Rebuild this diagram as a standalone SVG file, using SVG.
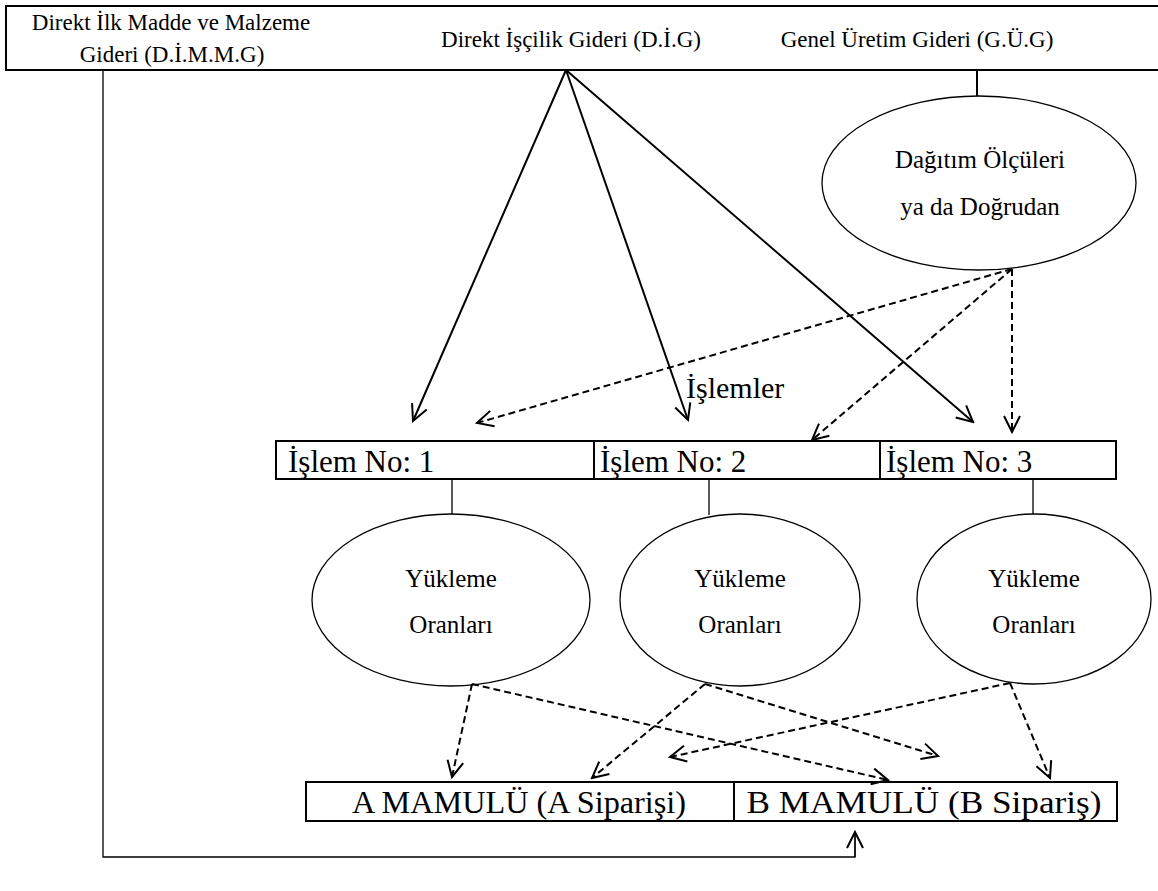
<svg xmlns="http://www.w3.org/2000/svg" width="1158" height="891" viewBox="0 0 1158 891">
<defs>
<style>
.t{font-family:"Liberation Serif","Times New Roman","DejaVu Serif",serif;fill:#000}
.box{fill:none;stroke:#000;stroke-width:2}
.ln{stroke:#000;stroke-width:2;fill:none}
.dash{stroke:#000;stroke-width:2;fill:none;stroke-dasharray:7,4}
.thin{stroke:#000;stroke-width:1.3;fill:none}
</style>
<marker id="ah" viewBox="0 0 20 20" refX="18" refY="10" markerWidth="20" markerHeight="20" markerUnits="userSpaceOnUse" orient="auto">
<path d="M2,2 L18,10 L2,18" fill="none" stroke="#000" stroke-width="2" stroke-dasharray="none"/>
</marker>
</defs>
<rect width="1158" height="891" fill="#fff"/>

<g id="top-box">
<rect class="box" x="6" y="6" width="1160" height="64"/>
<text class="t" x="171" y="30" font-size="23" text-anchor="middle">Direkt İlk Madde ve Malzeme</text>
<text class="t" x="172" y="62" font-size="23" text-anchor="middle">Gideri (D.İ.M.M.G)</text>
<text class="t" x="571" y="47" font-size="23" text-anchor="middle">Direkt İşçilik Gideri (D.İ.G)</text>
<text class="t" x="917" y="47" font-size="23" text-anchor="middle">Genel Üretim Gideri (G.Ü.G)</text>
</g>

<g id="dagitim">
<ellipse class="thin" cx="979" cy="183" rx="157" ry="87"/>
<text class="t" x="980" y="168" font-size="25" text-anchor="middle">Dağıtım Ölçüleri</text>
<text class="t" x="980" y="215" font-size="25" text-anchor="middle">ya da Doğrudan</text>
</g>

<g id="islemler-label">
<text class="t" x="686" y="398" font-size="30">İşlemler</text>
</g>

<g id="islem-row">
<rect class="box" x="276" y="441" width="840" height="38"/>
<line class="ln" x1="594" y1="441" x2="594" y2="479"/>
<line class="ln" x1="880" y1="441" x2="880" y2="479"/>
<text class="t" x="288" y="472" font-size="31">İşlem No: 1</text>
<text class="t" x="600" y="472" font-size="31">İşlem No: 2</text>
<text class="t" x="886" y="472" font-size="31">İşlem No: 3</text>
</g>

<g id="yukleme-1">
<ellipse class="thin" cx="451" cy="600" rx="139" ry="86"/>
<text class="t" x="451" y="587" font-size="25" text-anchor="middle">Yükleme</text>
<text class="t" x="451" y="633" font-size="25" text-anchor="middle">Oranları</text>
</g>
<g id="yukleme-2">
<ellipse class="thin" cx="740" cy="600" rx="120" ry="86"/>
<text class="t" x="740" y="587" font-size="25" text-anchor="middle">Yükleme</text>
<text class="t" x="740" y="633" font-size="25" text-anchor="middle">Oranları</text>
</g>
<g id="yukleme-3">
<ellipse class="thin" cx="1034" cy="599" rx="117" ry="85"/>
<text class="t" x="1034" y="587" font-size="25" text-anchor="middle">Yükleme</text>
<text class="t" x="1034" y="633" font-size="25" text-anchor="middle">Oranları</text>
</g>

<g id="mamul-row">
<rect class="box" x="306" y="782" width="811" height="39"/>
<line class="ln" x1="734" y1="782" x2="734" y2="821"/>
<text class="t" x="519" y="813" font-size="31" text-anchor="middle" textLength="334" lengthAdjust="spacingAndGlyphs">A MAMULÜ (A Siparişi)</text>
<text class="t" x="924" y="813" font-size="31" text-anchor="middle" textLength="355" lengthAdjust="spacingAndGlyphs">B MAMULÜ (B Sipariş)</text>
</g>

<g id="connectors">
<line class="ln" x1="566" y1="70" x2="413" y2="421" marker-end="url(#ah)"/>
<line class="ln" x1="566" y1="70" x2="688" y2="420" marker-end="url(#ah)"/>
<line class="ln" x1="566" y1="70" x2="973" y2="422" marker-end="url(#ah)"/>
<line class="ln" x1="977" y1="70" x2="977" y2="96"/>
<line class="dash" x1="1012" y1="269" x2="477" y2="423" marker-end="url(#ah)"/>
<line class="dash" x1="1012" y1="269" x2="812" y2="440" marker-end="url(#ah)"/>
<line class="dash" x1="1012" y1="269" x2="1012" y2="432" marker-end="url(#ah)"/>
<line class="thin" x1="452" y1="479" x2="452" y2="514"/>
<line class="thin" x1="709" y1="479" x2="709" y2="515"/>
<line class="thin" x1="1033" y1="479" x2="1033" y2="514"/>
<line class="dash" x1="472" y1="684" x2="452" y2="777" marker-end="url(#ah)"/>
<line class="dash" x1="472" y1="684" x2="888" y2="780" marker-end="url(#ah)"/>
<line class="dash" x1="705" y1="684" x2="592" y2="778" marker-end="url(#ah)"/>
<line class="dash" x1="705" y1="684" x2="938" y2="756" marker-end="url(#ah)"/>
<line class="dash" x1="1010" y1="683" x2="670" y2="757" marker-end="url(#ah)"/>
<line class="dash" x1="1010" y1="683" x2="1050" y2="778" marker-end="url(#ah)"/>
<polyline class="thin" points="103,70 103,857 855,857 855,835"/>
<line class="thin" x1="855" y1="857" x2="855" y2="832" marker-end="url(#ah)"/>
</g>
</svg>
